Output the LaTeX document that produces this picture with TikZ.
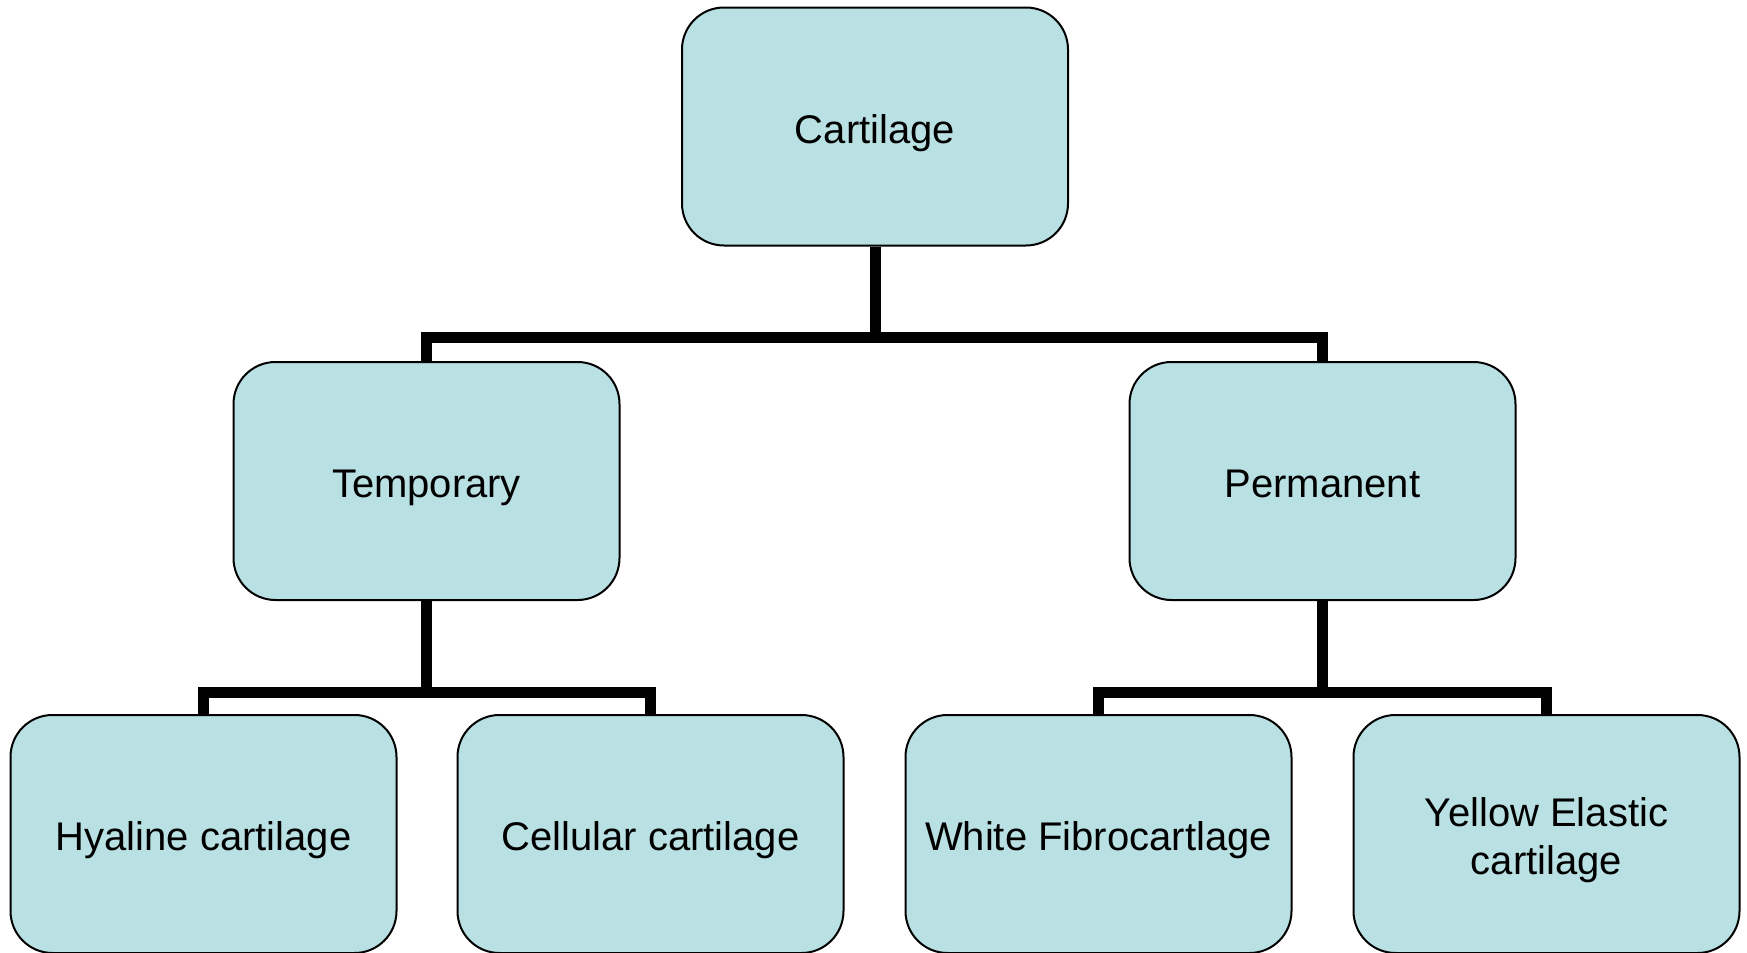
\documentclass[tikz,border=0pt]{standalone}
\usepackage{fontspec}
\setmainfont{Liberation Sans}
\usetikzlibrary{calc}
\definecolor{boxfill}{RGB}{185,224,227}

\begin{document}
\begin{tikzpicture}[x=0.5pt, y=-0.5pt,
  kind/.style={draw=black, line width=1pt, fill=boxfill, rounded corners=21pt,
    minimum width=193pt, minimum height=119pt, align=center,
    text height=16.5pt, text depth=0pt,
    font=\fontsize{20}{24}\selectfont},
  bar/.style={line width=5.5pt}]
\useasboundingbox (0,0) rectangle (1747,953);
\node [kind] (cart) at (875,126.5) {Cartilage};
\node [kind] (temp) at (426.5,481) {Temporary};
\node [kind] (perm) at (1322.5,481) {Permanent};
\node [kind] (hyal) at (203.5,834) {Hyaline cartilage};
\node [kind] (cell) at (650.5,834) {Cellular cartilage};
\node [kind] (whit) at (1098.5,834) {White Fibrocartlage};
\node [kind, text height=40.5pt] (yell) at (1546.5,834) {Yellow Elastic\\cartilage};
\coordinate (top) at (875,337);
\coordinate (left) at (426.5,692);
\coordinate (right) at (1322.5,692);
\draw [bar] (cart.south) -- (top) -| (temp.north);
\draw [bar] (top) -| (perm.north);
\draw [bar] (temp.south) -- (left) -| (hyal.north);
\draw [bar] (left) -| (cell.north);
\draw [bar] (perm.south) -- (right) -| (whit.north);
\draw [bar] (right) -| (yell.north);
\end{tikzpicture}
\end{document}
